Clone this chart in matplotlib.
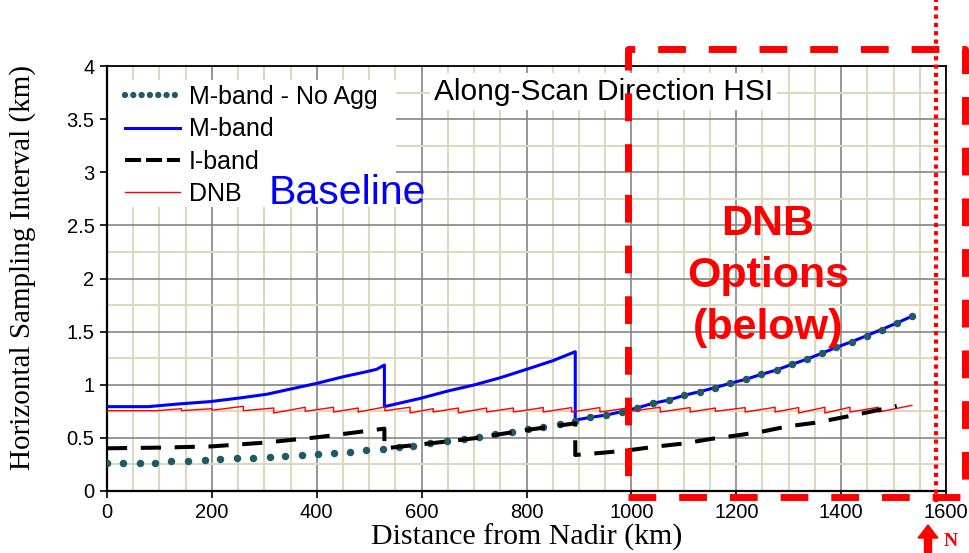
import matplotlib
matplotlib.use("Agg")
import matplotlib.pyplot as plt
from matplotlib.patches import Rectangle, FancyArrow
from matplotlib.lines import Line2D
from matplotlib.ticker import MultipleLocator

# ---- data (distance from nadir in km, sampling interval in km) ----
mnoagg_km = [0, 31, 62, 92, 123, 155, 186, 216, 247, 278, 310, 340, 371, 402,
             433, 463, 494, 526, 556, 584, 616, 648, 680, 709, 740, 772, 802,
             832, 864, 893, 922, 952, 982, 1011, 1042, 1072, 1101, 1131, 1159,
             1188, 1218, 1248, 1277, 1306, 1334, 1363, 1391, 1420, 1449, 1477,
             1506, 1535]
mnoagg_val = [0.265, 0.265, 0.265, 0.268, 0.278, 0.280, 0.292, 0.302, 0.306,
              0.313, 0.320, 0.333, 0.339, 0.345, 0.354, 0.370, 0.386, 0.400,
              0.411, 0.427, 0.449, 0.468, 0.490, 0.511, 0.534, 0.559, 0.581,
              0.602, 0.628, 0.662, 0.693, 0.715, 0.747, 0.782, 0.826, 0.857,
              0.901, 0.936, 0.972, 1.013, 1.051, 1.098, 1.139, 1.192, 1.239,
              1.296, 1.352, 1.405, 1.462, 1.520, 1.580, 1.645]

mband_km = [0, 79, 136, 196, 254, 305, 343, 400, 451, 495, 514, 529,
            529, 597, 650, 700, 750, 800, 850, 893,
            893, 922, 952, 982, 1011, 1042, 1072, 1101, 1131, 1159, 1188,
            1218, 1248, 1277, 1306, 1334, 1363, 1391, 1420, 1449, 1477, 1506,
            1535]
mband_val = [0.794, 0.794, 0.819, 0.841, 0.876, 0.911, 0.952, 1.013, 1.076,
             1.123, 1.145, 1.186,
             0.794, 0.871, 0.941, 0.998, 1.066, 1.145, 1.226, 1.311,
             0.668, 0.693, 0.715, 0.747, 0.782, 0.826, 0.857, 0.901, 0.936,
             0.972, 1.013, 1.051, 1.098, 1.139, 1.192, 1.239, 1.296, 1.352,
             1.405, 1.462, 1.520, 1.580, 1.645]

iband_km = [0, 100, 200, 300, 400, 470, 529,
            529, 600, 700, 800, 893,
            893, 950, 1000, 1050, 1100, 1150, 1200, 1250, 1300, 1350, 1400,
            1450, 1506]
iband_val = [0.402, 0.408, 0.420, 0.455, 0.505, 0.549, 0.587,
             0.402, 0.439, 0.496, 0.574, 0.637,
             0.339, 0.362, 0.387, 0.420, 0.447, 0.489, 0.522, 0.560, 0.610,
             0.642, 0.690, 0.740, 0.800]

# DNB sawtooth: flat start, then teeth that climb to a peak and drop back
dnb_start_km = [0, 95]
dnb_start_val = [0.756, 0.756]
dnb_drop_km = [142, 200, 260, 318, 378, 432, 479, 530, 578, 622, 670, 724,
               775, 832, 886, 940, 997, 1055, 1112, 1160, 1217, 1274, 1319,
               1369, 1417, 1471]
dnb_peak = [0.775, 0.775, 0.797, 0.781, 0.788, 0.788, 0.781, 0.791, 0.788,
            0.775, 0.781, 0.781, 0.781, 0.785, 0.785, 0.785, 0.785, 0.788,
            0.785, 0.781, 0.785, 0.788, 0.785, 0.788, 0.788, 0.788]
dnb_trough = [0.756, 0.760, 0.756, 0.734, 0.750, 0.743, 0.743, 0.756, 0.734,
              0.743, 0.734, 0.743, 0.743, 0.743, 0.743, 0.743, 0.750, 0.743,
              0.743, 0.750, 0.743, 0.743, 0.734, 0.734, 0.743, 0.743]
dnb_end_km = 1535
dnb_end_val = 0.806

x_ticks = [0, 200, 400, 600, 800, 1000, 1200, 1400, 1600]
y_ticks = [0, 0.5, 1, 1.5, 2, 2.5, 3, 3.5, 4]
y_tick_labels = ["0", "0.5", "1", "1.5", "2", "2.5", "3", "3.5", "4"]

series_labels = ["M-band - No Agg", "M-band", "I-band", "DNB"]

# ---- colours ----
TEAL = "#215a66"
BLUE = "#0000ff"
RED = "#ff0000"
BLACK = "#000000"

plt.rcParams["font.family"] = ["Liberation Sans", "DejaVu Sans"]

W, H = 969, 553
fig = plt.figure(figsize=(W / 100, H / 100), dpi=100)
fig.patch.set_facecolor("white")
ax = fig.add_axes([107 / W, 1 - 491 / H, (946 - 107) / W, (491 - 66) / H])

# build the DNB polyline
dnb_km = list(dnb_start_km)
dnb_val = list(dnb_start_val)
for k, pk, tr in zip(dnb_drop_km, dnb_peak, dnb_trough):
    dnb_km += [k, k]
    dnb_val += [pk, tr]
dnb_km.append(dnb_end_km)
dnb_val.append(dnb_end_val)

ax.plot(mband_km, mband_val, color=BLUE, lw=2.2, zorder=3,
        solid_joinstyle="round")
ax.plot(mnoagg_km, mnoagg_val, linestyle="none", marker="o", ms=5.4,
        color=TEAL, markeredgewidth=0, zorder=4)
ax.plot(dnb_km, dnb_val, color=RED, lw=1.0, zorder=4.5)
ax.plot(iband_km, iband_val, color=BLACK, lw=2.9, linestyle=(0, (5, 3.4)),
        zorder=5)

ax.set_xlim(0, 1600)
ax.set_ylim(0, 4)
ax.set_xticks(x_ticks)
ax.set_xticklabels([str(v) for v in x_ticks])
ax.set_yticks(y_ticks)
ax.set_yticklabels(y_tick_labels)
ax.xaxis.set_minor_locator(MultipleLocator(50))
ax.yaxis.set_minor_locator(MultipleLocator(0.25))
ax.set_axisbelow(True)
ax.grid(which="minor", color="#ddd8c0", lw=1.5)
ax.grid(which="major", color="#858585", lw=1.2)
ax.tick_params(which="minor", length=0)
ax.tick_params(which="major", direction="out", length=5, width=1.2,
               labelsize=14.5, pad=4)
for side in ["left", "bottom"]:
    ax.spines[side].set_linewidth(1.6)
for side in ["top", "right"]:
    ax.spines[side].set_linewidth(1.3)

ax.set_xlabel("Distance from Nadir (km)", family="Liberation Serif",
              fontsize=21.5, labelpad=1)
ax.set_ylabel("Horizontal Sampling Interval (km)", family="Liberation Serif",
              fontsize=21)
ax.yaxis.set_label_coords(-0.085, 0.525)

# white panel behind the legend
ax.add_patch(Rectangle((0, 0.668), 0.344, 0.299, transform=ax.transAxes,
                       facecolor="white", edgecolor="none", zorder=1.5))

handles = [
    Line2D([], [], color=TEAL, lw=4.6, linestyle=(0, (0.001, 1.3)),
           dash_capstyle="round"),
    Line2D([], [], color=BLUE, lw=2.2),
    Line2D([], [], color=BLACK, lw=2.9, linestyle=(0, (4, 1.2))),
    Line2D([], [], color=RED, lw=1.0),
]
leg = ax.legend(handles, series_labels, loc="upper left",
                bbox_to_anchor=(0.022, 0.955), frameon=False, fontsize=18,
                handlelength=2.2, handletextpad=0.35, labelspacing=0.33,
                borderpad=0, borderaxespad=0)
leg.set_zorder(6)

ax.text(947, 3.76, "Along-Scan Direction HSI", fontsize=21.5, ha="center",
        va="center", zorder=6,
        bbox=dict(facecolor="white", edgecolor="none", pad=3))
ax.text(458, 2.80, "Baseline", fontsize=29.5, color=BLUE, ha="center",
        va="center", zorder=6)

# overlay annotations in figure pixel space (inches at 100 dpi)
px = fig.dpi_scale_trans
fig.text(768 / W, 1 - 276 / H, "DNB\nOptions\n(below)", color=RED,
         fontsize=31, fontweight="bold", ha="center", va="center",
         linespacing=1.38, zorder=10)

box = Rectangle((6.28, (H - 497) / 100), (965 - 628) / 100, (497 - 49) / 100,
                transform=px, fill=False, edgecolor=RED, lw=5.0,
                linestyle=(0, (4, 3.3)), joinstyle="round", zorder=10)
fig.add_artist(box)

fig.add_artist(Line2D([9.36, 9.36], [(H - 502) / 100, H / 100], transform=px,
                      color=RED, lw=3.0, linestyle=(0, (1, 1)), zorder=10))

fig.add_artist(FancyArrow(9.28, 0.0, 0, (H - 525) / 100, width=0.07,
                          head_width=0.20, head_length=0.13,
                          length_includes_head=True, transform=px,
                          color=RED, zorder=10))
fig.text(944 / W, 7 / H, "N", color=RED, fontsize=14, fontweight="bold",
         family="Liberation Serif", ha="left", va="baseline", zorder=10)

fig.savefig("out.png", dpi=100, facecolor="white")
